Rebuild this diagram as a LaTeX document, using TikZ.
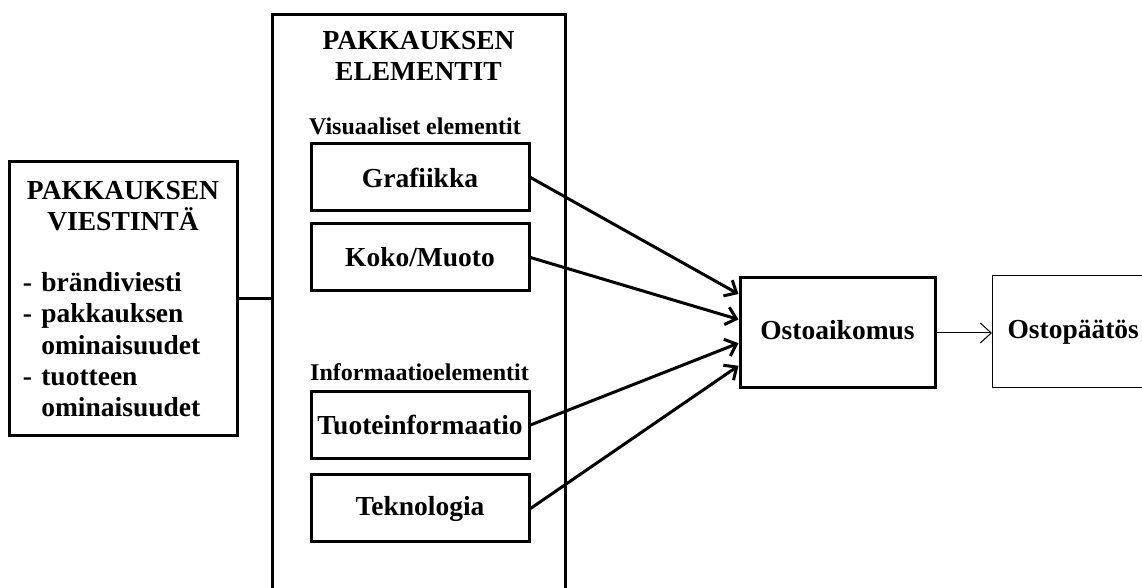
\documentclass[tikz,border=0pt]{standalone}
\usepackage{fontspec}
\setmainfont{Liberation Serif}
\usetikzlibrary{arrows.meta,calc}
\begin{document}
\begin{tikzpicture}[x=0.5pt, y=-0.5pt,
  box/.style={draw, line width=1.5pt, rectangle, inner sep=0pt},
  txt/.style={font=\fontsize{13.75}{15.6}\selectfont\bfseries},
  sub/.style={font=\fontsize{12}{14}\selectfont\bfseries},
  arr/.style={line width=1.5pt, -{Straight Barb[length=5pt,width=9pt]}}]
\clip (0,0) rectangle (1142,588);
% left block
\node[box, txt, minimum width=114pt, minimum height=137pt, inner xsep=7pt, text width=100pt] (viesti) at (123,299)
  {{\centering PAKKAUKSEN\\VIESTINTÄ\par}\vspace{15pt}\raggedright
   - brändiviesti\\- pakkauksen\\\phantom{- }ominaisuudet\\- tuotteen\\\phantom{- }ominaisuudet};
% middle block
\node[box, minimum width=146.5pt, minimum height=320pt, anchor=north] (elementit) at (418.5,13) {};
\node[txt, align=center] (otsikko) at (418.5,56) {PAKKAUKSEN\\ELEMENTIT};
\node[sub] (visu) at (415,126) {Visuaaliset elementit};
\node[box, txt, minimum width=109pt, minimum height=33.5pt] (grafiikka) at (420,177.5) {Grafiikka};
\node[box, txt, minimum width=109pt, minimum height=33.5pt] (koko) at (420,257.5) {Koko/Muoto};
\node[sub] (info) at (419.5,372) {Informaatioelementit};
\node[box, txt, minimum width=109pt, minimum height=33.5pt] (tuote) at (420,425) {Tuoteinformaatio};
\node[box, txt, minimum width=109pt, minimum height=33.5pt] (tekno) at (420,508.5) {Teknologia};
% right blocks
\node[box, txt, text height=9.5pt, text depth=3pt, minimum width=97.5pt, minimum height=55pt] (osto) at (837.5,333) {Ostoaikomus};
\node[draw, line width=0.5pt, txt, text height=9.5pt, text depth=3pt, inner xsep=7.5pt, minimum height=56pt, anchor=west] (paatos) at (992,332) {Ostopäätös};
% connectors
\draw[line width=1.5pt] (viesti.east) -- (viesti.east -| elementit.west);
\draw[arr] (grafiikka.east) -- ($(osto.north west)!0.155!(osto.south west)$);
\draw[arr] (koko.east) -- ($(osto.north west)!0.38!(osto.south west)$);
\draw[arr] (tuote.east) -- ($(osto.north west)!0.59!(osto.south west)$);
\draw[arr] (tekno.east) -- ($(osto.north west)!0.79!(osto.south west)$);
\draw[line width=0.5pt, -{Straight Barb[length=5.5pt,width=10pt]}] (osto.east) -- (osto.east -| paatos.west);
\end{tikzpicture}
\end{document}
